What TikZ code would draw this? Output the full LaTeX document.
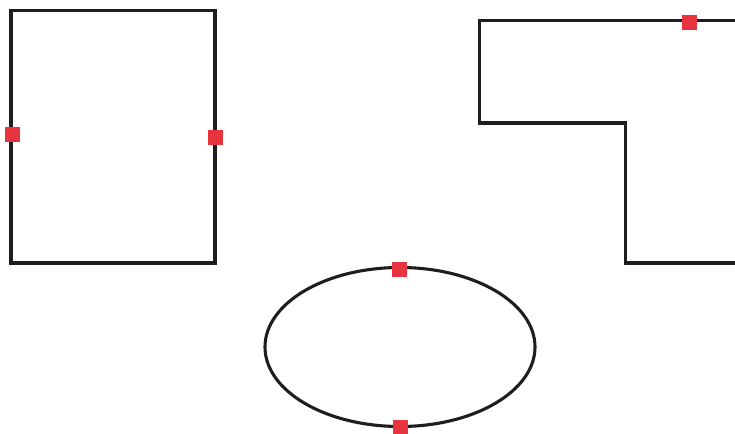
\documentclass[tikz,border=0pt]{standalone}
\definecolor{outline}{RGB}{30,30,30}
\definecolor{marker}{RGB}{232,52,62}
\tikzset{
  shapeline/.style={draw=outline,line width=3.5pt,line join=miter},
  redmark/.style={fill=marker,draw=none,minimum width=15pt,minimum height=15pt,inner sep=0pt,shape=rectangle}
}
\begin{document}
\begin{tikzpicture}[x=1pt,y=-1pt]
\useasboundingbox (0,0) rectangle (735,433);
\clip (0,0) rectangle (735,433);
% rectangle
\draw[shapeline] (11,10.5) rectangle (215,263);
% L-shape
\draw[shapeline] (740,20.5) -- (479.5,20.5) -- (479.5,123) -- (625.5,123) -- (625.5,263) -- (740,263);
% ellipse
\draw[shapeline,line width=3.1pt] (400,347) ellipse [x radius=135, y radius=79.5];
% markers
\node[redmark] (m1) at (12,134) {};
\node[redmark] (m2) at (215.5,137) {};
\node[redmark] (m3) at (689,22.5) {};
\node[redmark] (m4) at (399,269.5) {};
\node[redmark] (m5) at (400,427) {};
\end{tikzpicture}
\end{document}
